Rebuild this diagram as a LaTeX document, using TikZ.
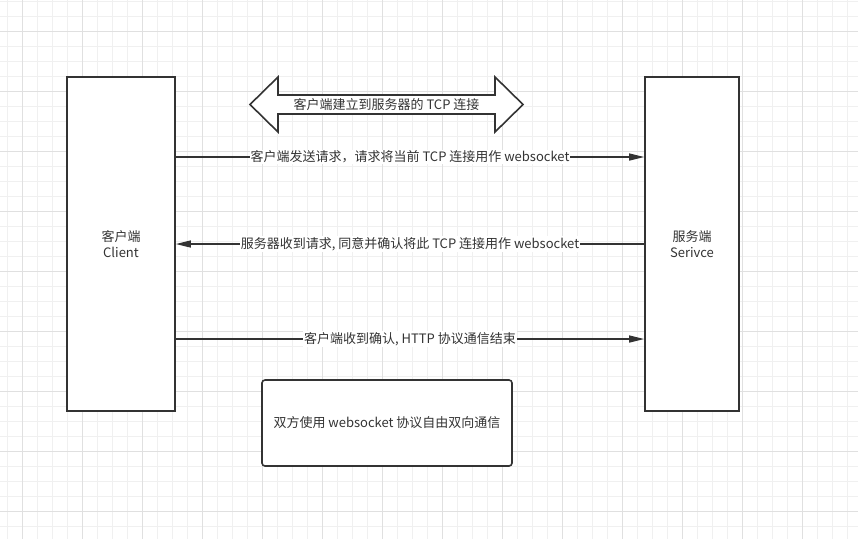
\documentclass[tikz,border=0pt]{standalone}
\usepackage{fontspec}
\setmainfont{Noto Sans CJK SC}
\usepackage{tikz}
\usetikzlibrary{arrows.meta,positioning,calc}
\definecolor{inkgray}{RGB}{51,51,51}
\definecolor{gridminor}{RGB}{240,240,240}
\definecolor{gridmajor}{RGB}{224,224,224}

\begin{document}
\begin{tikzpicture}[
        x=1pt, y=-1pt,
        >={Triangle[length=15pt,width=7pt]},
        every node/.style={font=\fontsize{13}{16}\selectfont, text=inkgray},
        party/.style={rectangle,draw=inkgray,line width=1.6pt,minimum height=334pt,inner sep=0pt,align=center},
        note/.style={rectangle,draw=inkgray,line width=1.6pt,rounded corners=3pt,minimum width=250pt,minimum height=86pt},
        msg/.style={draw=inkgray,line width=1.3pt,->},
        msglabel/.style={fill=white,inner sep=1pt}
      ]
        \useasboundingbox (0,0) rectangle (858,539);
        \fill[white] (0,0) rectangle (858,539);

        % grid background
        \foreach \i in {0,...,56} \draw[gridminor,line width=0.8pt] (7+15*\i,0) -- (7+15*\i,539);
        \foreach \j in {0,...,35} \draw[gridminor,line width=0.8pt] (0,1+15*\j) -- (858,1+15*\j);
        \foreach \i in {0,...,13} \draw[gridmajor,line width=0.8pt] (22+60*\i,0) -- (22+60*\i,539);
        \foreach \j in {0,...,8}  \draw[gridmajor,line width=0.8pt] (0,31+60*\j) -- (858,31+60*\j);

        \node[party,minimum width=108pt,fill=white] (client) at (121,244) {客户端\\Client};
        \node[party,minimum width=94pt,fill=white]  (server) at (692,244) {服务端\\Serivce};
        \node[note,fill=white] (both) at (387,423) {双方使用 websocket 协议自由双向通信};

        % TCP handshake double arrow
        \draw[inkgray,line width=1.6pt,fill=white,line join=miter]
          (250,104.5) -- (278,77) -- (278,95) -- (495,95) -- (495,77) -- (523,104.5)
          -- (495,132) -- (495,114) -- (278,114) -- (278,132) -- cycle;
        \node (tcp) at (386.5,104.5) {客户端建立到服务器的 TCP 连接};

        \draw[msg] (client.east |- 0,157) -- (server.west |- 0,157)
          node[midway,msglabel] {客户端发送请求，请求将当前 TCP 连接用作 websocket};
        \draw[msg] (server.west |- 0,244) -- (client.east |- 0,244)
          node[midway,msglabel] {服务器收到请求, 同意并确认将此 TCP 连接用作 websocket};
        \draw[msg] (client.east |- 0,339) -- (server.west |- 0,339)
          node[midway,msglabel] {客户端收到确认, HTTP 协议通信结束};
      \end{tikzpicture}
\end{document}
